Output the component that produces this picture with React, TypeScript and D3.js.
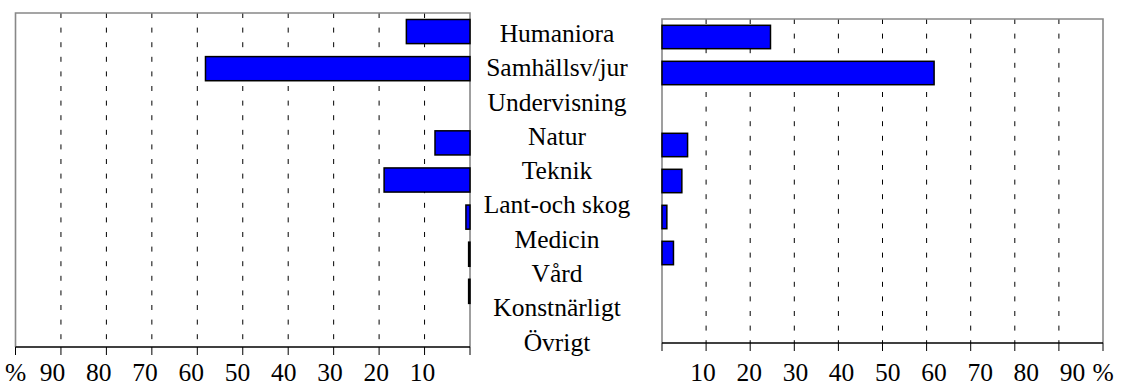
import React from "react";
import * as d3 from "d3";

// Study fields, listed in the centre column
const categories = [
  "Humaniora",
  "Samhällsv/jur",
  "Undervisning",
  "Natur",
  "Teknik",
  "Lant-och skog",
  "Medicin",
  "Vård",
  "Konstnärligt",
  "Övrigt",
];

// Percentages, left-hand panel (bars grow leftwards)
const leftValues = [14, 58.2, 0, 7.7, 18.9, 0.9, 0.3, 0.3, 0, 0];
// Percentages, right-hand panel
const rightValues = [24.6, 61.7, 0, 5.8, 4.5, 1.1, 2.6, 0, 0, 0];

const tickValues = [10, 20, 30, 40, 50, 60, 70, 80, 90];
const gridValues = [10, 20, 30, 40, 50, 60, 70, 80, 90];
const axisTicks = [0, 10, 20, 30, 40, 50, 60, 70, 80, 90, 100];
const unitLabel = "%";

const W = 1122;
const H = 386;
const FONT = '"Liberation Serif", "DejaVu Serif", serif';
const FONT_SIZE = 25.5;

// The plot area holds nine rows; the last listed field has no row of its own
const plotted = categories.slice(0, 9);

type PanelProps = {
  values: number[];
  x: d3.ScaleLinear<number, number>;
  top: number;
  bottom: number;
  labelX: d3.ScaleLinear<number, number>;
};

function Label({ x, y, text }: { x: number; y: number; text: string }) {
  return (
    <text
      x={x}
      y={y}
      textAnchor="middle"
      style={{ fontFamily: FONT, fontSize: `${FONT_SIZE}px` }}
      fill="#000"
    >
      {text}
    </text>
  );
}

function Panel({ values, x, top, bottom, labelX }: PanelProps) {
  const y = d3
    .scaleBand<string>()
    .domain(plotted)
    .range([top, bottom])
    .paddingInner(0.35)
    .paddingOuter(0.175);
  const [x0, x1] = [x(0), x(100)];
  const left = Math.min(x0, x1);
  const right = Math.max(x0, x1);
  return (
    <g>
      {/* dashed vertical gridlines */}
      {gridValues.map((v) => (
        <line
          key={"g" + v}
          x1={x(v)}
          x2={x(v)}
          y1={top}
          y2={bottom}
          stroke="#000"
          strokeWidth={1}
          strokeDasharray="5,9.6"
        />
      ))}
      {/* frame */}
      <path
        d={`M${left},${bottom} V${top} H${right} V${bottom}`}
        fill="none"
        stroke="#888"
        strokeWidth={1.6}
      />
      {/* bars */}
      {plotted.map((c, i) =>
        values[i] > 0 ? (
          <rect
            key={c}
            x={Math.min(x(0), x(values[i]))}
            y={y(c)}
            width={Math.abs(x(values[i]) - x(0))}
            height={y.bandwidth()}
            fill="#0000ff"
            stroke="#000"
            strokeWidth={1.5}
          />
        ) : null
      )}
      {/* bottom axis */}
      <line x1={left} x2={right} y1={bottom} y2={bottom} stroke="#000" strokeWidth={1.3} />
      {axisTicks.map((v) => (
        <line
          key={"t" + v}
          x1={x(v)}
          x2={x(v)}
          y1={bottom}
          y2={bottom + 8}
          stroke="#000"
          strokeWidth={1}
        />
      ))}
      {tickValues.map((v) => (
        <Label key={"l" + v} x={labelX(v)} y={381} text={String(v)} />
      ))}
      <Label x={x(100)} y={381} text={unitLabel} />
    </g>
  );
}

export default function App() {
  const xLeft = d3.scaleLinear().domain([0, 100]).range([470, 15.5]);
  const xRight = d3.scaleLinear().domain([0, 100]).range([662, 1103]);
  const labelLeft = d3.scaleLinear().domain([10, 90]).range([422.5, 52.5]);
  const labelRight = d3.scaleLinear().domain([10, 90]).range([703, 1072.5]);
  const rowLabel = d3.scaleLinear().domain([0, 9]).range([42, 350.5]);

  return (
    <svg
      width={W}
      height={H}
      viewBox={`0 0 ${W} ${H}`}
      style={{ position: "absolute", left: 0, top: 0, background: "#fff" }}
    >
      <rect width={W} height={H} fill="#fff" />
      <Panel values={leftValues} x={xLeft} top={13} bottom={347} labelX={labelLeft} />
      <Panel values={rightValues} x={xRight} top={19} bottom={343} labelX={labelRight} />
      {categories.map((c, i) => (
        <Label key={c} x={557} y={rowLabel(i)} text={c} />
      ))}
    </svg>
  );
}
